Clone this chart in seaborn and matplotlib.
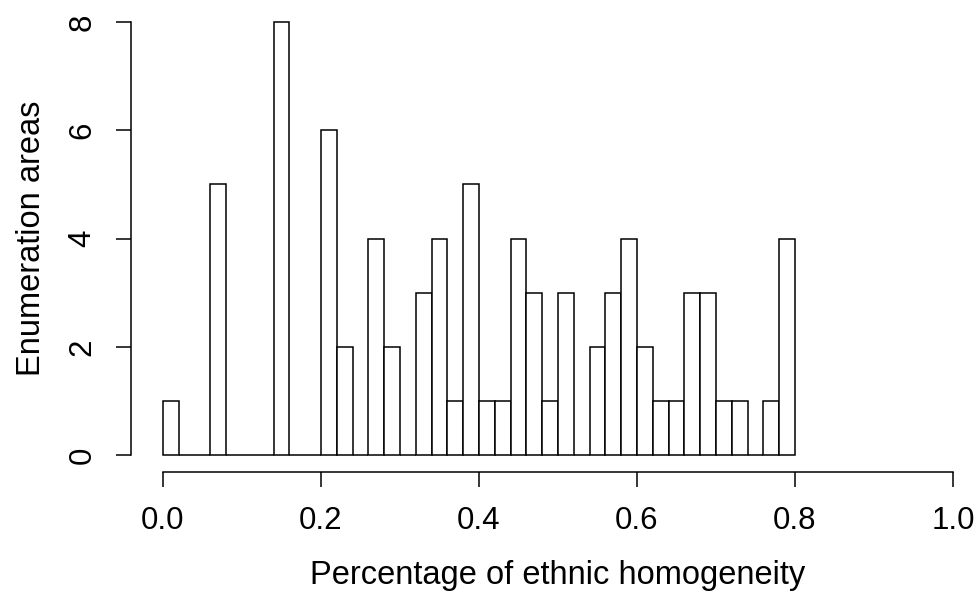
import numpy as np
import pandas as pd
import matplotlib
matplotlib.use("Agg")
import matplotlib.pyplot as plt
import seaborn as sns

bin_edges = [round(0.02 * i, 2) for i in range(41)]
counts = [1, 0, 0, 5, 0, 0, 0, 8, 0, 0,
          6, 2, 0, 4, 2, 0, 3, 4, 1, 5,
          1, 1, 4, 3, 1, 3, 0, 2, 3, 4,
          2, 1, 1, 3, 3, 1, 1, 0, 1, 4]
x_ticks = [0.0, 0.2, 0.4, 0.6, 0.8, 1.0]
x_tick_labels = ["0.0", "0.2", "0.4", "0.6", "0.8", "1.0"]
y_ticks = [0, 2, 4, 6, 8]
y_tick_labels = ["0", "2", "4", "6", "8"]

centers = [(bin_edges[i] + bin_edges[i + 1]) / 2 for i in range(len(counts))]
df = pd.DataFrame({"homogeneity": centers, "n": counts})

sns.set_style("white")
plt.rcParams["font.family"] = ["Liberation Sans", "DejaVu Sans"]
plt.rcParams["text.color"] = "black"
plt.rcParams["axes.labelcolor"] = "black"
plt.rcParams["xtick.color"] = "black"
plt.rcParams["ytick.color"] = "black"

fig = plt.figure(figsize=(9.79, 5.91), dpi=100)
ax = fig.add_axes([0.1342, 0.2008, 0.8715, 0.7912])

sns.histplot(data=df, x="homogeneity", weights="n", bins=bin_edges,
             color="white", edgecolor="black", linewidth=1.1, alpha=1,
             ax=ax)

ax.set_xlim(-0.04, 1.04)
ax.set_ylim(-0.32, 8.32)

for s in ["top", "right"]:
    ax.spines[s].set_visible(False)
ax.spines["left"].set_bounds(0, 8)
ax.spines["bottom"].set_bounds(0, 1)
for s in ["left", "bottom"]:
    ax.spines[s].set_linewidth(1.1)
    ax.spines[s].set_color("black")

ax.set_xticks(x_ticks)
ax.set_xticklabels(x_tick_labels)
ax.set_yticks(y_ticks)
ax.set_yticklabels(y_tick_labels, rotation=90, va="center")
ax.tick_params(axis="both", direction="out", length=11, width=1.1,
               color="black", labelcolor="black", labelsize=22.5, pad=13.5,
               left=True, bottom=True)

ax.set_xlabel("Percentage of ethnic homogeneity", fontsize=23.5, color="black")
ax.set_ylabel("Enumeration areas", fontsize=23.5, color="black")
ax.xaxis.set_label_coords(0.5, -0.2196)
ax.xaxis.label.set_va("center")
ax.yaxis.set_label_coords(-0.1165, 0.5)
ax.yaxis.label.set_va("center")

fig.savefig("out.png", dpi=100, facecolor="white")
